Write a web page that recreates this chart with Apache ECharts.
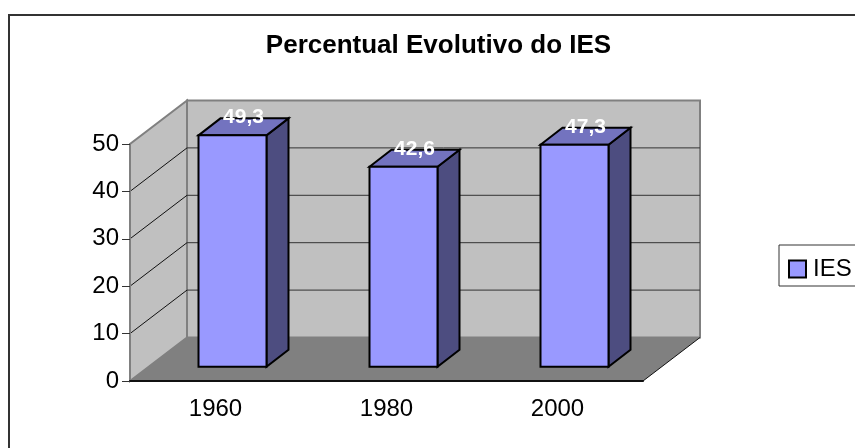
<!DOCTYPE html>
<html>
<head>
<meta charset="utf-8">
<style>
html, body { margin: 0; padding: 0; background: #fff; overflow: hidden; }
#chart { width: 855px; height: 448px; }
</style>
<script src="https://cdn.jsdelivr.net/npm/echarts@6/dist/echarts.min.js"></script>
</head>
<body>
<div id="chart"></div>
<script>
var categories = ['1960', '1980', '2000'];
var valuesIES = [49.3, 42.6, 47.3];
var wallTicks = [10, 20, 30, 40, 50];
var seriesName = 'IES';

// profundidade da caixa 3D, em pixels
var depthX = 57, depthY = 43.5;
// barras: deslocamento e profundidade
var barShiftX = 17, barShiftY = 14.3;
var barDepthX = 22, barDepthY = 17;
var barWidth = 68;
var barScale = 0.99;

var chart = echarts.init(document.getElementById('chart'));

function poly(points, fill, stroke, width) {
    return {
        type: 'polygon',
        shape: { points: points },
        style: { fill: fill, stroke: stroke || null, lineWidth: width || 0, lineJoin: 'miter' }
    };
}
function line(x1, y1, x2, y2, color, width) {
    return {
        type: 'line',
        shape: { x1: x1, y1: y1, x2: x2, y2: y2 },
        style: { stroke: color, lineWidth: width }
    };
}

// paredes e chão
function renderWalls(params, api) {
    var band = api.size([1, 0])[0];
    var ox = api.coord([0, 0])[0] - band / 2;
    var ex = api.coord([categories.length - 1, 0])[0] + band / 2;
    var oy = api.coord([0, 0])[1];
    var ty = api.coord([0, 50])[1];
    var children = [
        poly([[ox, oy], [ox + depthX, oy - depthY], [ox + depthX, ty - depthY], [ox, ty]], '#c0c0c0', '#808080', 2),
        poly([[ox + depthX, oy - depthY], [ex + depthX, oy - depthY], [ex + depthX, ty - depthY], [ox + depthX, ty - depthY]], '#c0c0c0', '#808080', 2),
        poly([[ox, oy], [ex, oy], [ex + depthX, oy - depthY], [ox + depthX, oy - depthY]], '#808080')
    ];
    wallTicks.forEach(function (v) {
        var y = api.coord([0, v])[1];
        if (v < 50) {
            children.push(line(ox, y, ox + depthX, y - depthY, '#111', 1));
            children.push(line(ox + depthX, y - depthY, ex + depthX, y - depthY, '#333', 1));
        }
    });
    // aresta direita do chão
    children.push(line(ex, oy, ex + depthX, oy - depthY, '#111', 1));
    return { type: 'group', children: children };
}

// cada barra é uma caixa: frente, topo e lado
function renderBar(params, api) {
    var base = api.coord([api.value(0), 0]);
    var top = api.coord([api.value(0), api.value(1)]);
    var x0 = base[0] + barShiftX - barWidth / 2;
    var x1 = x0 + barWidth;
    var y0 = base[1] - barShiftY;
    var y1 = y0 - (base[1] - top[1]) * barScale;
    return {
        type: 'group',
        children: [
            poly([[x1, y1], [x1 + barDepthX, y1 - barDepthY], [x1 + barDepthX, y0 - barDepthY], [x1, y0]], '#4d4d80', '#000', 2),
            poly([[x0, y1], [x0 + barDepthX, y1 - barDepthY], [x1 + barDepthX, y1 - barDepthY], [x1, y1]], '#7373bf', '#000', 2),
            poly([[x0, y1], [x1, y1], [x1, y0], [x0, y0]], '#9999ff', '#000', 2),
            {
                type: 'text',
                z2: 10,
                style: {
                    text: String(api.value(1)).replace('.', ','),
                    x: x0 + barWidth / 2 + 11,
                    y: y1 - 18,
                    align: 'center',
                    verticalAlign: 'middle',
                    fill: '#fff',
                    font: 'bold 21px "Liberation Sans"'
                }
            }
        ]
    };
}

var option = {
    animation: false,
    backgroundColor: '#fff',
    textStyle: { fontFamily: 'Liberation Sans' },
    title: {
        text: 'Percentual Evolutivo do IES',
        left: 433.5,
        top: 28,
        textAlign: 'center',
        textStyle: { fontSize: 26, fontWeight: 'bold', color: '#000', fontFamily: 'Liberation Sans' }
    },
    legend: {
        left: 779,
        top: 245,
        orient: 'vertical',
        padding: [12, 30, 5, 9],
        borderColor: '#333',
        borderWidth: 1,
        itemWidth: 17,
        itemHeight: 17,
        itemGap: 0,
        selectedMode: false,
        icon: 'rect',
        textStyle: { fontSize: 24, color: '#000', padding: [0, 0, 9, 2] },
        data: [{ name: seriesName, itemStyle: { color: '#9999ff', borderColor: '#000', borderWidth: 2 } }]
    },
    grid: { left: 130, right: 212, top: 144, bottom: 67 },
    xAxis: {
        type: 'category',
        data: categories,
        z: 5,
        axisLine: { lineStyle: { color: '#111', width: 2 } },
        axisTick: { alignWithLabel: false, length: 6, lineStyle: { color: '#333' } },
        axisLabel: { fontSize: 24, color: '#000', margin: 16 }
    },
    yAxis: {
        type: 'value',
        min: 0,
        max: 50,
        interval: 10,
        z: 5,
        axisLine: { show: true, lineStyle: { color: '#808080', width: 2 } },
        axisTick: { show: true, length: 8, lineStyle: { color: '#333' } },
        axisLabel: { fontSize: 24, color: '#000', margin: 11 },
        splitLine: { show: false }
    },
    series: [
        {
            name: 'paredes',
            type: 'custom',
            silent: true,
            z: 1,
            clip: false,
            renderItem: renderWalls,
            data: [[0, 0]]
        },
        {
            name: seriesName,
            type: 'custom',
            z: 3,
            clip: false,
            renderItem: renderBar,
            encode: { x: 0, y: 1 },
            data: categories.map(function (c, i) { return [i, valuesIES[i]]; })
        }
    ],
    graphic: [{
        type: 'rect',
        silent: true,
        z: -1,
        shape: { x: 9, y: 15, width: 900, height: 500 },
        style: { fill: 'transparent', stroke: '#333', lineWidth: 2 }
    }]
};

chart.setOption(option);
</script>
</body>
</html>
